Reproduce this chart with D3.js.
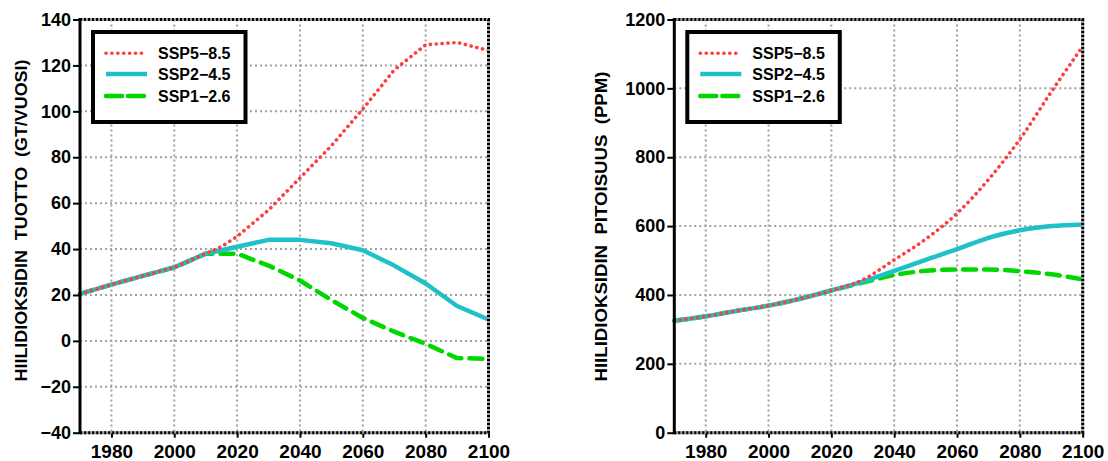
<!DOCTYPE html>
<html>
<head>
<meta charset="utf-8">
<script src="https://cdn.jsdelivr.net/npm/d3@7"></script>
<style>
  body { margin: 0; background: #fff; }
  svg { display: block; font-family: "Liberation Sans", Arial, sans-serif; }
  .tick text { font-weight: bold; fill: #000; }
  .tick line { stroke: #000; stroke-width: 2; }
</style>
</head>
<body>
<script>
// CO2 emissions, Gt/year
const emisYears = [1970, 1980, 1990, 2000, 2010, 2015, 2020, 2030, 2040, 2050, 2060, 2070, 2080, 2090, 2100];
const emisSSP585 = [20.5, 24.5, 28.3, 32, 38, 41, 45.5, 57, 71, 85, 101, 118, 129, 130, 126.5];
const emisSSP245 = [20.5, 24.5, 28.3, 32, 38, 39.5, 41, 44, 44, 42.5, 39.5, 32.8, 25, 15.2, 9.3];
const emisSSP126 = [20.5, 24.5, 28.3, 32, 38, 38, 38, 32.8, 26.3, 17.8, 10, 4, -1.3, -7.5, -7.8];

// CO2 concentration, ppm
const concYears = [1970, 1980, 1990, 2000, 2010, 2020, 2030, 2040, 2050, 2060, 2070, 2080, 2090, 2100];
const concSSP585 = [325, 338, 354, 369, 389, 413, 444, 502, 562, 637, 735, 852, 990, 1122];
const concSSP245 = [325, 338, 354, 369, 389, 413, 439, 470, 502, 533, 566, 588, 600, 605];
const concSSP126 = [325, 338, 354, 369, 389, 413, 436, 458, 470, 474, 474, 469, 460, 445];

const xTicks = [1980, 2000, 2020, 2040, 2060, 2080, 2100];
const emisTicks = [-40, -20, 0, 20, 40, 60, 80, 100, 120, 140];
const concTicks = [0, 200, 400, 600, 800, 1000, 1200];

const seriesNames = ['SSP5\u22128.5', 'SSP2\u22124.5', 'SSP1\u22122.6'];

const WIDTH = 1108;
const HEIGHT = 461;
const TOP = 19.5;
const BOTTOM = 432.7;

const styles = [
  { color: '#ff3d3d', width: 3.6, dash: '0.1,5.8', cap: 'round' },
  { color: '#1fc0c8', width: 4.5, dash: null, cap: 'butt' },
  { color: '#00d600', width: 4.5, dash: '13,8', cap: 'round' }
];

const minus = s => String(s).replace('-', '\u2212');

const svg = d3.select('body')
  .append('svg')
  .attr('width', WIDTH)
  .attr('height', HEIGHT);

function drawPanel(opt) {
  const x = d3.scaleLinear().domain([1970, 2100]).range([opt.left, opt.right]);
  const y = d3.scaleLinear().domain(opt.yDomain).range([BOTTOM, TOP]);
  const g = svg.append('g');

  // grid
  g.append('g')
    .selectAll('line.gx')
    .data(xTicks.filter(d => d < 2100))
    .enter().append('line')
      .attr('x1', d => x(d)).attr('x2', d => x(d))
      .attr('y1', TOP).attr('y2', BOTTOM)
      .attr('stroke', '#a0a0a0').attr('stroke-width', 2)
      .attr('stroke-dasharray', '2,3');
  g.append('g')
    .selectAll('line.gy')
    .data(opt.yTicks.slice(1, -1))
    .enter().append('line')
      .attr('x1', opt.left).attr('x2', opt.right)
      .attr('y1', d => y(d)).attr('y2', d => y(d))
      .attr('stroke', '#a0a0a0').attr('stroke-width', 2)
      .attr('stroke-dasharray', '2,3');

  // series, green first so red stays on top
  const line = d3.line()
    .x((d, i) => x(opt.years[i]))
    .y(d => y(d))
    .curve(opt.curve);

  [2, 1, 0].forEach(k => {
    const s = styles[k];
    g.append('path')
      .attr('d', line(opt.series[k]))
      .attr('fill', 'none')
      .attr('stroke', s.color)
      .attr('stroke-width', s.width)
      .attr('stroke-linecap', s.cap)
      .attr('stroke-linejoin', 'round')
      .attr('stroke-dasharray', s.dash);
  });

  // frame: dotted top / right / bottom, solid left axis
  const framePath = `M${opt.left},${TOP}H${opt.right}V${BOTTOM}H${opt.left}`;
  g.append('path').attr('d', framePath).attr('fill', 'none')
    .attr('stroke', '#9a9a9a').attr('stroke-width', 3);
  g.append('path').attr('d', framePath).attr('fill', 'none')
    .attr('stroke', '#000').attr('stroke-width', 3)
    .attr('stroke-dasharray', '2,2');
  g.append('line')
    .attr('x1', opt.left).attr('x2', opt.left)
    .attr('y1', TOP - 1.5).attr('y2', BOTTOM + 1.5)
    .attr('stroke', '#000').attr('stroke-width', 3);

  // axes
  g.append('g')
    .attr('transform', `translate(${opt.left - 1},0)`)
    .call(d3.axisLeft(y).tickValues(opt.yTicks).tickSize(6).tickPadding(2).tickFormat(minus))
    .call(a => a.select('.domain').remove())
    .selectAll('text').style('font-size', '18px');

  g.append('g')
    .attr('transform', `translate(0,${BOTTOM + 1})`)
    .call(d3.axisBottom(x).tickValues(xTicks).tickSize(4).tickPadding(7).tickFormat(d3.format('d')))
    .call(a => a.select('.domain').remove())
    .selectAll('text').style('font-size', '19px');

  // y label
  g.append('text')
    .attr('transform', `translate(${opt.labelX},381.5) rotate(-90)`)
    .attr('text-anchor', 'start')
    .attr('textLength', opt.labelLength)
    .attr('lengthAdjust', 'spacingAndGlyphs')
    .style('font-size', '16px')
    .style('font-weight', 'bold')
    .style('white-space', 'pre')
    .text(opt.label);

  // legend
  const lg = g.append('g').attr('transform', `translate(${opt.left + 13},${TOP + 12.5})`);
  lg.append('rect')
    .attr('width', 152.5).attr('height', 90)
    .attr('fill', '#fff').attr('stroke', '#000').attr('stroke-width', 4);
  const rows = [21.3, 42, 64];
  seriesNames.forEach((name, k) => {
    const s = styles[k];
    lg.append('line')
      .attr('x1', 13).attr('x2', 54)
      .attr('y1', rows[k]).attr('y2', rows[k])
      .attr('stroke', s.color)
      .attr('stroke-width', s.width)
      .attr('stroke-linecap', s.cap)
      .attr('stroke-dasharray', k === 2 ? '16,6' : s.dash);
    lg.append('text')
      .attr('x', 65).attr('y', rows[k])
      .attr('dy', '0.36em')
      .style('font-size', '16px')
      .style('font-weight', 'bold')
      .text(name);
  });
}

drawPanel({
  left: 80, right: 488.5,
  yDomain: [-40, 140], yTicks: emisTicks,
  years: emisYears,
  series: [emisSSP585, emisSSP245, emisSSP126],
  curve: d3.curveLinear,
  labelX: 27,
  labelLength: 322,
  label: 'HIILIDIOKSIDIN  TUOTTO  (GT/VUOSI)'
});

drawPanel({
  left: 674.3, right: 1082.7,
  yDomain: [0, 1200], yTicks: concTicks,
  years: concYears,
  series: [concSSP585, concSSP245, concSSP126],
  curve: d3.curveMonotoneX,
  labelX: 607,
  labelLength: 310,
  label: 'HIILIDIOKSIDIN  PITOISUUS  (PPM)'
});
</script>
</body>
</html>
